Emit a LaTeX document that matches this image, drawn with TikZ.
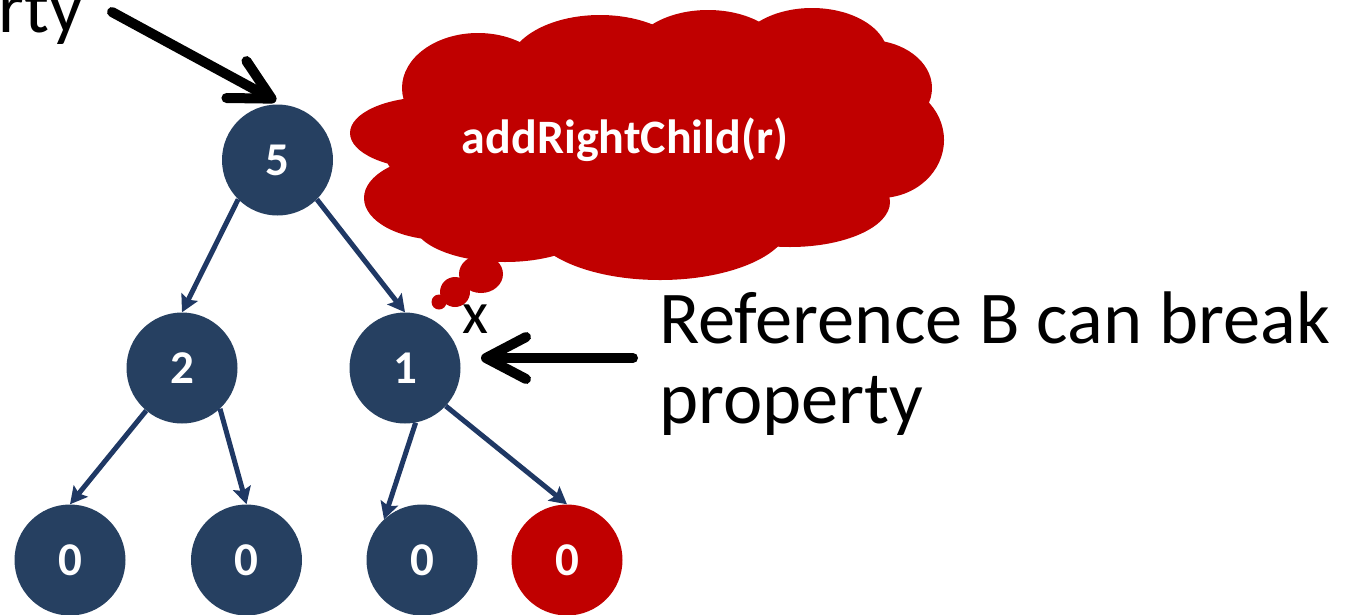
\documentclass[tikz,border=0pt]{standalone}
\usepackage{fontspec}
\setmainfont{Carlito}
\usetikzlibrary{arrows.meta}
\definecolor{navy}{RGB}{38,64,97}
\definecolor{edgeblue}{RGB}{31,56,100}
\definecolor{cloudred}{RGB}{192,0,0}
\begin{document}
\begin{tikzpicture}[x=1pt,y=-1pt,
  tnode/.style={circle, fill=navy, minimum size=111pt, inner sep=0pt, text=white, font=\fontsize{47}{50}\selectfont\bfseries},
  rednode/.style={tnode, fill=cloudred},
  tedge/.style={draw=edgeblue, line width=5pt, -{Stealth[length=17pt,width=18pt,inset=3pt]}},
  bigarrow/.style={draw=black, line width=10pt, line cap=round, line join=round, -{Straight Barb[length=40pt,width=42pt,round]}},
  bigtext/.style={font=\fontsize{74.5}{80}\selectfont, text=black, inner sep=0pt},
  cloudpart/.style={fill=cloudred}]
\useasboundingbox (0,0) rectangle (1348,614);
\clip (0,0) rectangle (1348,614);

% thought cloud
\fill[cloudpart] (645,145) ellipse [x radius=262, y radius=98];
\fill[cloudpart] (430,133) ellipse [x radius=80, y radius=36];
\fill[cloudpart] (442,198) ellipse [x radius=78, y radius=42];
\fill[cloudpart] (505,222) ellipse [x radius=92, y radius=40];
\fill[cloudpart] (660,222) ellipse [x radius=130, y radius=58];
\fill[cloudpart] (790,202) ellipse [x radius=100, y radius=45];
\fill[cloudpart] (880,140) ellipse [x radius=64, y radius=58];
\fill[cloudpart] (868,88) ellipse [x radius=64, y radius=48];
\fill[cloudpart] (812,56) ellipse [x radius=76, y radius=48];
\fill[cloudpart] (708,58) ellipse [x radius=78, y radius=48];
\fill[cloudpart] (600,68) ellipse [x radius=92, y radius=53];
\fill[cloudpart] (478,88) ellipse [x radius=76, y radius=55];
\fill[cloudpart] (481,274) ellipse [x radius=22, y radius=19];
\fill[cloudpart] (455,292) circle [radius=15];
\fill[cloudpart] (439,302) circle [radius=7.5];
\node[text=white, font=\fontsize{48}{50}\selectfont\bfseries, inner sep=0pt, anchor=base] (cloudtext) at (625,153) {addRightChild(r)};

% tree nodes
\node[tnode] (n5) at (277.5,160) {5};
\node[tnode] (n2) at (182,368) {2};
\node[tnode] (n1) at (405,368) {1};
\node[tnode] (a0) at (70,560) {0};
\node[tnode] (b0) at (246.5,560) {0};
\node[tnode] (c0) at (422,560) {0};
\node[rednode] (d0) at (567,560) {0};

% tree edges
\draw[tedge] (n5.225.7) -- (n2.north);
\draw[tedge] (n5.315.7) -- (n1.north);
\draw[tedge] (n2.230.3) -- (a0.north);
\draw[tedge] (n2.313.6) -- (b0.north);
\draw[tedge] (n1.281) -- (c0.133.5);
\draw[tedge] (n1.317) -- (d0.north);

% labels
\node[font=\fontsize{60}{64}\selectfont, inner sep=0pt, anchor=base] (xlabel) at (475.5,333) {x};
\node[bigtext, anchor=base east] (toptext) at (83,32) {property};
\node[bigtext, anchor=base west] (refline1) at (659,343) {Reference B can break};
\node[bigtext, anchor=base west] (refline2) at (659,423) {property};

% black arrows
\coordinate (topstart) at (112,12);
\coordinate (toptip) at (276,101);
\draw[bigarrow] (topstart) -- (toptip);
\coordinate (refstart) at (633,358);
\coordinate (reftip) at (481,358);
\draw[bigarrow] (refstart) -- (reftip);
\end{tikzpicture}
\end{document}
